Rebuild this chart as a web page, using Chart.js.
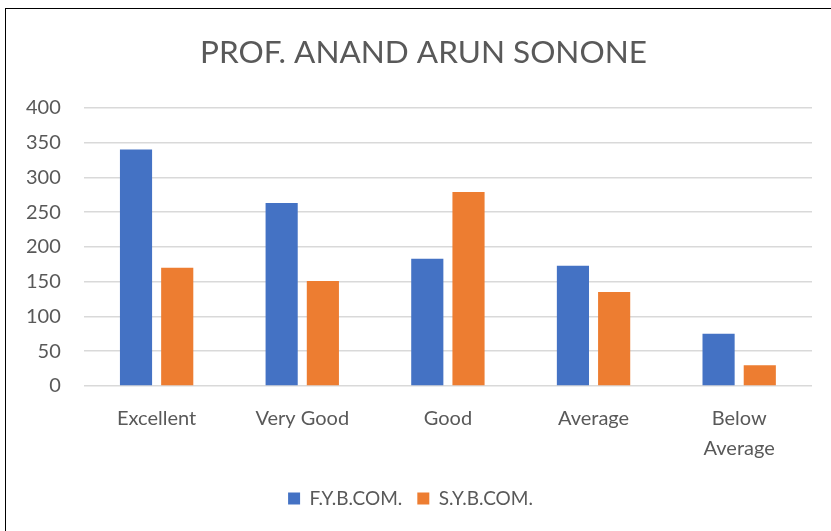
<!DOCTYPE html>
<html>
<head>
<meta charset="utf-8">
<script src="https://cdn.jsdelivr.net/npm/chart.js@4"></script>
<style>
    html, body { margin: 0; padding: 0; background: #fff; }
    #wrap { position: relative; width: 831px; height: 531px; overflow: hidden; }
    #frame {
        position: absolute; left: 5px; top: 8px; width: 840px; height: 540px;
        border: 1.5px solid #000; box-sizing: border-box; pointer-events: none;
    }
    canvas { position: absolute; left: 0; top: 0; }
</style>
</head>
<body>
<div id="wrap">
    <canvas id="chart" width="831" height="531"></canvas>
    <div id="frame"></div>
</div>
<script>
    const categories = ['Excellent', 'Very Good', 'Good', 'Average', ['Below', 'Average']];
    const fyValues = [340, 263, 183, 173, 75];
    const syValues = [170, 151, 279, 135, 30];
    const seriesNames = ['F.Y.B.COM.', 'S.Y.B.COM.'];
    const chartTitle = 'PROF. ANAND ARUN SONONE';

    const TEXT = '#595959';
    const GRID = '#d9d9d9';
    const FONT = 'Lato, "Open Sans", sans-serif';

    // title and legend are centred on the whole frame, not on the padded area
    const blockShift = {
        id: 'blockShift',
        afterLayout(chart) {
            chart.titleBlock.left += 16;
            chart.titleBlock.right += 16;
            chart.legend.left += 3;
            chart.legend.right += 3;
        }
    };

    new Chart(document.getElementById('chart'), {
        type: 'bar',
        data: {
            labels: categories,
            datasets: [
                { label: seriesNames[0], data: fyValues, backgroundColor: '#4472c4' },
                { label: seriesNames[1], data: syValues, backgroundColor: '#ed7d31' }
            ]
        },
        options: {
            responsive: false,
            animation: false,
            devicePixelRatio: 1,
            datasets: { bar: { categoryPercentage: 0.566, barPercentage: 0.78 } },
            layout: { padding: { left: 3, right: 19, top: 30, bottom: 13 } },
            scales: {
                x: {
                    grid: { display: false },
                    border: { display: false },
                    ticks: { color: TEXT, font: { family: FONT, size: 20, lineHeight: 1.5 }, padding: 10, maxRotation: 0 }
                },
                y: {
                    min: 0, max: 400,
                    ticks: { stepSize: 50, color: TEXT, font: { family: FONT, size: 20 }, padding: 23 },
                    grid: { color: GRID, lineWidth: 1.5, drawTicks: false },
                    border: { display: false }
                }
            },
            plugins: {
                title: {
                    display: true, text: chartTitle, color: TEXT,
                    font: { family: FONT, size: 31.5, weight: 'normal' },
                    padding: { top: 4, bottom: 36 }
                },
                legend: {
                    position: 'bottom',
                    labels: {
                        color: TEXT, font: { family: FONT, size: 19 },
                        boxWidth: 12, boxHeight: 12, padding: 15
                    }
                },
                tooltip: { enabled: false }
            }
        },
        plugins: [blockShift]
    });
</script>
</body>
</html>
